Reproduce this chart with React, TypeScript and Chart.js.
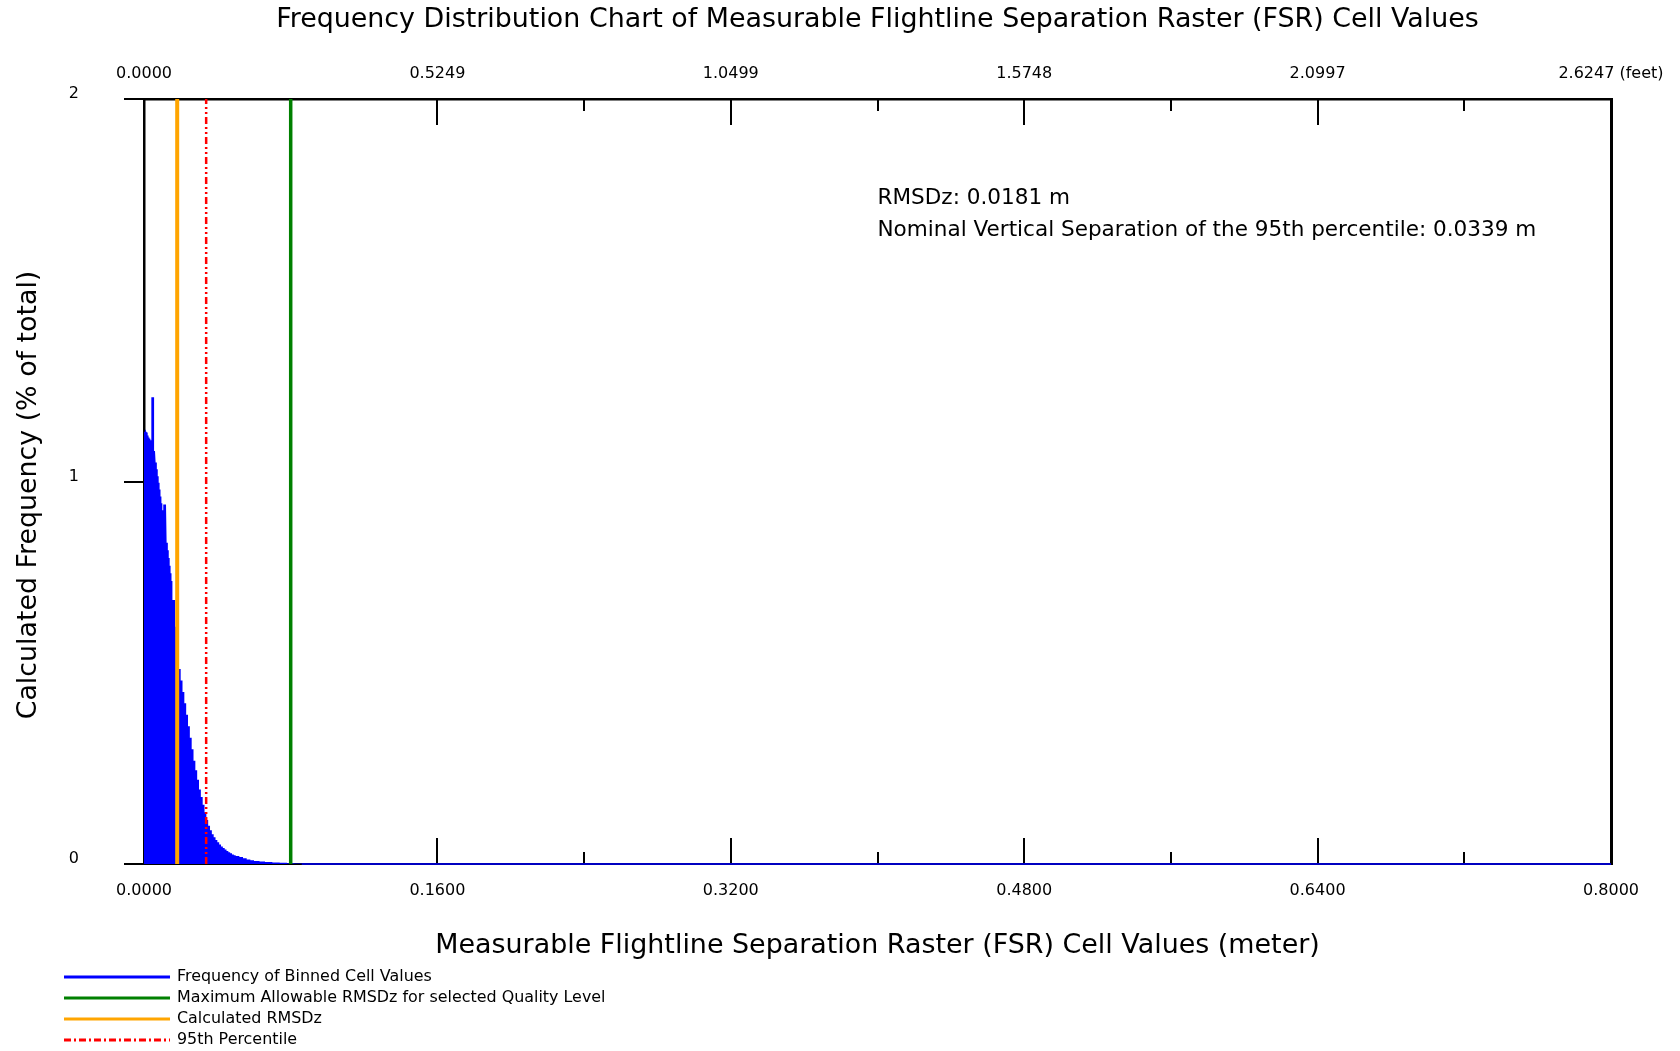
import React, { useEffect, useRef } from 'react';
import { Chart, registerables } from 'chart.js';

Chart.register(...registerables);

// ---------- data ----------
const binStartM = [
  0.0, 0.0005, 0.001, 0.0015, 0.002, 0.0025, 0.003, 0.0035, 0.004, 0.0045, 0.005, 0.0055,
  0.006, 0.0065, 0.007, 0.0075, 0.008, 0.0085, 0.009, 0.0095, 0.01, 0.0105, 0.011, 0.0115,
  0.012, 0.0125, 0.013, 0.0135, 0.014, 0.0145, 0.015, 0.0155, 0.016, 0.0165, 0.017, 0.0175,
  0.018, 0.0185, 0.019, 0.02, 0.021, 0.022, 0.023, 0.024, 0.025, 0.026, 0.027, 0.028,
  0.029, 0.03, 0.031, 0.032, 0.033, 0.034, 0.035, 0.036, 0.037, 0.038, 0.039, 0.04,
  0.041, 0.042, 0.043, 0.044, 0.045, 0.046, 0.047, 0.048, 0.049, 0.05, 0.052, 0.054,
  0.056, 0.058, 0.06, 0.063, 0.066, 0.07, 0.074, 0.078, 0.082, 0.086,
];
const binEndM = 0.8;
const freqPct = [
  1.13, 1.135, 1.13, 1.128, 1.12, 1.115, 1.112, 1.108, 1.22, 1.22, 1.22, 1.08,
  1.068, 1.05, 1.032, 1.014, 0.997, 0.979, 0.961, 0.943, 0.925, 0.94, 0.94, 0.94,
  0.94, 0.84, 0.82, 0.8, 0.78, 0.76, 0.74, 0.69, 0.69, 0.69, 0.62, 0.6,
  0.57, 0.54, 0.51, 0.48, 0.45, 0.42, 0.39, 0.36, 0.33, 0.3, 0.27, 0.245,
  0.22, 0.195, 0.175, 0.155, 0.135, 0.115, 0.1, 0.088, 0.078, 0.07, 0.063, 0.057,
  0.051, 0.046, 0.042, 0.038, 0.034, 0.031, 0.028, 0.025, 0.023, 0.021, 0.018, 0.015,
  0.012, 0.01, 0.008, 0.0065, 0.005, 0.004, 0.003, 0.002, 0.001, 0.0,
];

const rmsdzM = 0.0181;
const percentile95M = 0.0339;
const maxAllowableM = 0.08;

const meterTickLabels = ['0.0000', '0.1600', '0.3200', '0.4800', '0.6400', '0.8000'];
const feetTickLabels = ['0.0000', '0.5249', '1.0499', '1.5748', '2.0997', '2.6247 (feet)'];
const yTickLabels = ['0', '1', '2'];

const seriesLabels = [
  'Frequency of Binned Cell Values',
  'Maximum Allowable RMSDz for selected Quality Level',
  'Calculated RMSDz',
  '95th Percentile',
];

const titleText = 'Frequency Distribution Chart of Measurable Flightline Separation Raster (FSR) Cell Values';
const xTitleText = 'Measurable Flightline Separation Raster (FSR) Cell Values (meter)';
const yTitleText = 'Calculated Frequency (% of total)';
const annotationLines = [
  'RMSDz: 0.0181 m',
  'Nominal Vertical Separation of the 95th percentile: 0.0339 m',
];

// ---------- styles ----------
const FONT = '"DejaVu Sans", Verdana, sans-serif';
const W = 1680;
const H = 1051;

function fitSize(ctx: CanvasRenderingContext2D, text: string, target: number, base: number) {
  ctx.font = `${base}px ${FONT}`;
  const w = ctx.measureText(text).width;
  return base * (target / w);
}

const decorPlugin = {
  id: 'decor',
  beforeDatasetsDraw(chart: any) {
    const ctx: CanvasRenderingContext2D = chart.ctx;
    const { top, bottom } = chart.chartArea;
    ctx.save();
    ctx.strokeStyle = '#000';
    ctx.lineWidth = 2;
    for (const id of ['x', 'x2']) {
      const sc = chart.scales[id];
      sc.ticks.forEach((_t: any, i: number) => {
        const px = Math.round(sc.getPixelForTick(i));
        const len = i % 2 === 0 ? 26 : 12;
        ctx.beginPath();
        if (id === 'x') {
          ctx.moveTo(px, bottom);
          ctx.lineTo(px, bottom - len);
        } else {
          ctx.moveTo(px, top);
          ctx.lineTo(px, top + len);
        }
        ctx.stroke();
      });
    }
    ctx.restore();
  },
  afterDraw(chart: any) {
    const ctx: CanvasRenderingContext2D = chart.ctx;
    const area = chart.chartArea;
    ctx.save();
    ctx.fillStyle = '#000';
    ctx.textBaseline = 'middle';

    // chart title
    ctx.textAlign = 'center';
    let s = fitSize(ctx, titleText, 1203, 24);
    ctx.font = `${s}px ${FONT}`;
    ctx.fillText(titleText, (area.left + area.right) / 2, 20);

    // x axis title
    s = fitSize(ctx, xTitleText, 885, 24);
    ctx.font = `${s}px ${FONT}`;
    ctx.fillText(xTitleText, (area.left + area.right) / 2, 946);

    // y axis title
    s = fitSize(ctx, yTitleText, 449, 24);
    ctx.font = `${s}px ${FONT}`;
    ctx.save();
    ctx.translate(29, 495);
    ctx.rotate(-Math.PI / 2);
    ctx.fillText(yTitleText, 0, 0);
    ctx.restore();

    // annotation
    ctx.textAlign = 'left';
    s = fitSize(ctx, annotationLines[1], 659, 20);
    ctx.font = `${s}px ${FONT}`;
    const ax = chart.scales.x.getPixelForValue(0.4);
    ctx.fillText(annotationLines[0], ax, area.top + 99);
    ctx.fillText(annotationLines[1], ax, area.top + 131);

    // legend
    s = fitSize(ctx, seriesLabels[1], 429, 15);
    ctx.font = `${s}px ${FONT}`;
    const rows = [977, 998, 1019, 1040];
    const shown = chart.data.datasets.filter((d: any) => !d.hideInLegend);
    shown.forEach((ds: any, i: number) => {
      const y = rows[i];
      ctx.save();
      ctx.strokeStyle = ds.legendColor || ds.borderColor;
      ctx.lineWidth = 3;
      ctx.setLineDash(ds.legendDash || []);
      ctx.beginPath();
      ctx.moveTo(64, y);
      ctx.lineTo(170, y);
      ctx.stroke();
      ctx.restore();
      ctx.fillText(ds.label, 177, y);
    });
    ctx.restore();
  },
};

export default function App() {
  const canvasRef = useRef<HTMLCanvasElement | null>(null);

  useEffect(() => {
    document.body.style.margin = '0';
    const canvas = canvasRef.current;
    if (!canvas) return;

    // histogram outline as explicit step corners (built from bin starts / values)
    const histogram: { x: number; y: number }[] = [];
    binStartM.forEach((x0, i) => {
      const x1 = i + 1 < binStartM.length ? binStartM[i + 1] : binEndM;
      histogram.push({ x: x0, y: freqPct[i] });
      histogram.push({ x: x1, y: freqPct[i] });
    });
    const vline = (v: number) => [
      { x: v, y: 0 },
      { x: v, y: 2 },
    ];

    const tickFont = { family: FONT, size: 16 };

    const chart = new Chart(canvas, {
      type: 'line',
      data: {
        datasets: [
          {
            label: seriesLabels[0],
            data: histogram,
            fill: 'origin',
            backgroundColor: '#0000ff',
            borderColor: '#0000ff',
            borderWidth: 0,
            pointRadius: 0,
            tension: 0,
            clip: false,
            order: 4,
            xAxisID: 'x',
            yAxisID: 'y',
          },
          {
            label: '',
            data: [
              { x: binStartM[binStartM.length - 1], y: 0 },
              { x: binEndM, y: 0 },
            ],
            borderColor: '#0000c0',
            borderWidth: 2,
            pointRadius: 0,
            fill: false,
            clip: false,
            order: 5,
            xAxisID: 'x',
            yAxisID: 'y',
            hideInLegend: true,
          },
          {
            label: seriesLabels[1],
            data: vline(maxAllowableM),
            borderColor: '#008000',
            borderWidth: 3.5,
            pointRadius: 0,
            fill: false,
            order: 3,
            xAxisID: 'x',
            yAxisID: 'y',
          },
          {
            label: seriesLabels[2],
            data: vline(rmsdzM),
            borderColor: '#ffa500',
            borderWidth: 4,
            pointRadius: 0,
            fill: false,
            order: 2,
            xAxisID: 'x',
            yAxisID: 'y',
          },
          {
            label: seriesLabels[3],
            data: vline(percentile95M),
            borderColor: '#ff0000',
            borderWidth: 2.5,
            borderDash: [7, 3, 2, 3, 2, 3],
            legendDash: [7, 3, 2, 3],
            pointRadius: 0,
            fill: false,
            order: 1,
            xAxisID: 'x',
            yAxisID: 'y',
          } as any,
        ],
      },
      options: {
        responsive: false,
        animation: false,
        events: [],
        layout: { padding: 0 },
        plugins: {
          legend: { display: false },
          title: { display: false },
          tooltip: { enabled: false },
        },
        scales: {
          x: {
            type: 'linear',
            position: 'bottom',
            min: 0,
            max: 0.8,
            ticks: {
              stepSize: 0.08,
              autoSkip: false,
              maxRotation: 0,
              minRotation: 0,
              padding: 17,
              color: '#000',
              font: tickFont,
              callback: (_v: any, i: number) => (i % 2 === 0 ? meterTickLabels[i / 2] : ''),
            },
            grid: { display: false, drawTicks: false },
            border: { display: true, color: '#000', width: 2 },
            afterFit: (sc: any) => {
              sc.height = H - 864;
            },
          },
          x2: {
            type: 'linear',
            position: 'top',
            min: 0,
            max: 0.8,
            ticks: {
              stepSize: 0.08,
              autoSkip: false,
              maxRotation: 0,
              minRotation: 0,
              padding: 16,
              color: '#000',
              font: tickFont,
              callback: (_v: any, i: number) => (i % 2 === 0 ? feetTickLabels[i / 2] : ''),
            },
            grid: { display: false, drawTicks: false },
            border: { display: true, color: '#000', width: 2.5 },
            afterFit: (sc: any) => {
              sc.height = 99;
            },
          },
          y: {
            type: 'linear',
            position: 'left',
            min: 0,
            max: 2,
            ticks: {
              stepSize: 1,
              padding: 45,
              labelOffset: -5,
              color: '#000',
              font: tickFont,
              callback: (_v: any, i: number) => yTickLabels[i],
            },
            grid: {
              display: true,
              drawOnChartArea: false,
              drawTicks: true,
              tickLength: 20,
              color: '#000',
              lineWidth: 2,
            },
            border: { display: true, color: '#000', width: 2.5 },
            afterFit: (sc: any) => {
              sc.width = 144;
            },
          },
          y2: {
            type: 'linear',
            position: 'right',
            min: 0,
            max: 2,
            ticks: { display: false },
            grid: { display: false, drawTicks: false },
            border: { display: true, color: '#000', width: 3 },
            afterFit: (sc: any) => {
              sc.width = W - 1611;
            },
          },
        },
      },
      plugins: [decorPlugin],
    } as any);

    return () => {
      chart.destroy();
    };
  }, []);

  return (
    <div style={{ width: W, height: H, background: '#fff' }}>
      <canvas ref={canvasRef} width={W} height={H} style={{ display: 'block' }} />
    </div>
  );
}
